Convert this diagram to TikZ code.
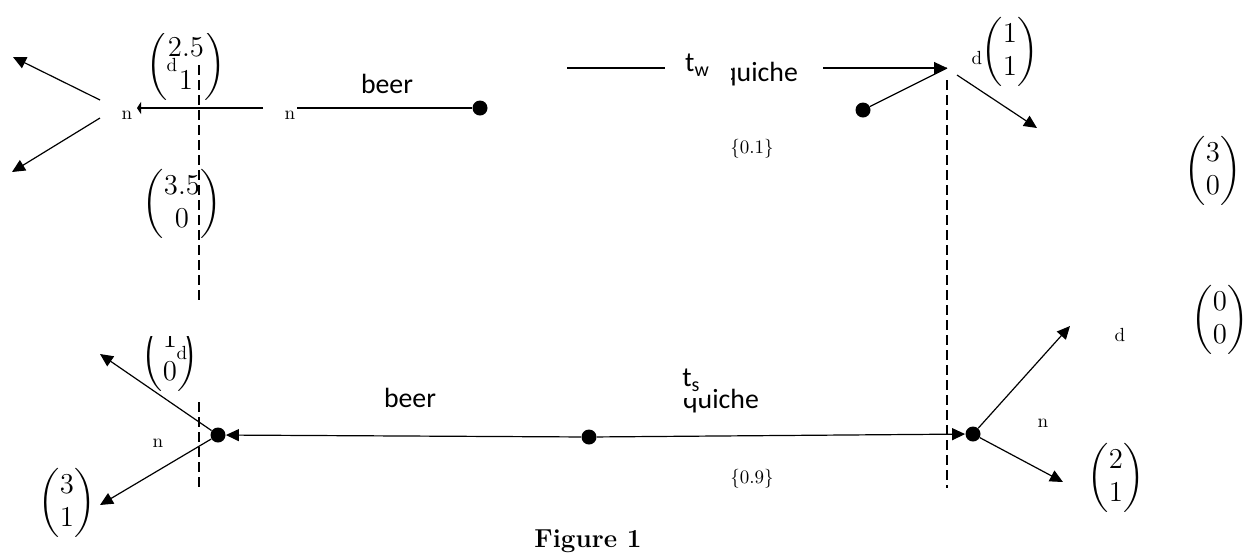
\documentclass[tikz,border=0pt]{standalone}
\usepackage{amsmath}
\usepackage{fontspec}
\newfontfamily\carl{Carlito}
\usetikzlibrary{arrows.meta}
\newcommand\cvec[2]{$\begin{pmatrix}#1\\#2\end{pmatrix}$}
\begin{document}
\begin{tikzpicture}[x=0.5pt,y=-0.5pt,
  ln/.style={line width=0.6pt},
  arr/.style={ln,-{Triangle[length=6.5pt,width=6pt]}},
  bararr/.style={ln,-{Triangle[length=2pt,width=6pt]}},
  dotn/.style={circle,fill,inner sep=0pt,minimum size=7.5pt},
  sm/.style={inner sep=0pt,font=\fontsize{9.5}{11}\selectfont},
  sans/.style={inner sep=0pt,font=\carl\fontsize{13.9}{16}\selectfont},
  mat/.style={inner sep=0pt,font=\fontsize{15}{16.5}\selectfont},
  vdash/.style={line width=0.7pt,dash pattern=on 5pt off 2.5pt},
  figcap/.style={inner sep=0pt,font=\fontsize{13}{15}\selectfont\bfseries}]
\useasboundingbox (0,0) rectangle (1250,559);

% ---------- top (weak type) ----------
\coordinate (tlA) at (100,100);
\coordinate (tlB) at (100,118);
\coordinate (tlU) at (13,57);
\coordinate (tlD) at (12,172);
\draw[arr] (tlA) -- (tlU);
\draw[arr] (tlB) -- (tlD);
\node[sm] (n1) at (127,115) {n};
\coordinate (hS) at (263,108);
\coordinate (hE) at (137,108);
\draw[bararr] (hS) -- (hE);
\node[sm] (n2) at (290,115) {n};
\node[dotn] (dw) at (480,108) {};
\coordinate (wS) at (297,108);
\draw[ln] (wS) -- (dw);
\node[sans] (beerw) at (387,84) {beer};

\draw[vdash] (199,65) -- (199,303);
\draw[vdash] (199,402) -- (199,490);
\draw[vdash] (947,80) -- (947,488);

\begin{scope}
  \clip (0,33) rectangle (1250,559);
  \node[mat] (m25) at (186,66) {\cvec{2.5}{1}};
\end{scope}
\node[sm] (d1) at (172,65) {d};
\node[mat] (m35) at (182,204) {\cvec{3.5}{0}};

\coordinate (qa) at (567,68);
\coordinate (qb) at (665,68);
\draw[ln] (qa) -- (qb);
\node[sans] (tw) at (697,65) {t\raisebox{-0.35ex}{\fontsize{10}{10}\selectfont w}};
\begin{scope}
  \clip (731,0) rectangle (1250,559);
  \node[sans] (qw) at (760,74) {quiche};
\end{scope}
\coordinate (qc) at (823,68);
\coordinate (wI) at (947,68);
\draw[arr] (qc) -- (wI);
\node[dotn] (dw2) at (863,110) {};
\draw[ln] (dw2) -- (wI);
\coordinate (wO) at (957,75);
\coordinate (wOt) at (1037,128);
\draw[arr] (wO) -- (wOt);
\node[sm] (d2) at (977,58) {d};
\node[mat] (m11) at (1010,52) {\cvec{1}{1}};
\node[mat] (m30) at (1213,171) {\cvec{3}{0}};
\node[sm] (p1) at (752,149) {\{0.1\}};

% ---------- bottom (strong type) ----------
\node[dotn] (dL) at (218,435) {};
\node[dotn] (dM) at (589,437) {};
\node[dotn] (dR) at (973,434) {};
\draw[arr] (dM) -- (dL);
\draw[arr] (dM) -- (dR);
\node[sans] (beers) at (410,398) {beer};
\node[sans] (ts) at (691,380) {t\raisebox{-0.35ex}{\fontsize{10}{10}\selectfont s}};
\begin{scope}
  \clip (0,398) rectangle (708,559) (708,0) rectangle (1250,559);
  \node[sans] (qs) at (721,401) {quiche};
\end{scope}
\node[sm] (p9) at (752,479) {\{0.9\}};

\coordinate (sU) at (100,354);
\coordinate (sD) at (100,505);
\draw[arr] (dL) -- (sU);
\draw[arr] (dL) -- (sD);
\begin{scope}
  \clip (0,336) rectangle (194,559);
  \node[mat] (m10) at (170,357) {\cvec{1}{0}};
\end{scope}
\node[sm] (d3) at (182,353) {d};
\node[sm] (n3) at (158,443) {n};
\node[mat] (m31) at (67,503) {\cvec{3}{1}};

\coordinate (rU) at (1070,326);
\coordinate (rD) at (1063,482);
\draw[arr] (dR) -- (rU);
\draw[arr] (dR) -- (rD);
\node[sm] (d4) at (1120,335) {d};
\node[sm] (n4) at (1043,423) {n};
\node[mat] (m00) at (1220,320) {\cvec{0}{0}};
\node[mat] (m21) at (1116,478) {\cvec{2}{1}};

\node[figcap] (fig) at (588,541) {Figure 1};
\end{tikzpicture}
\end{document}
